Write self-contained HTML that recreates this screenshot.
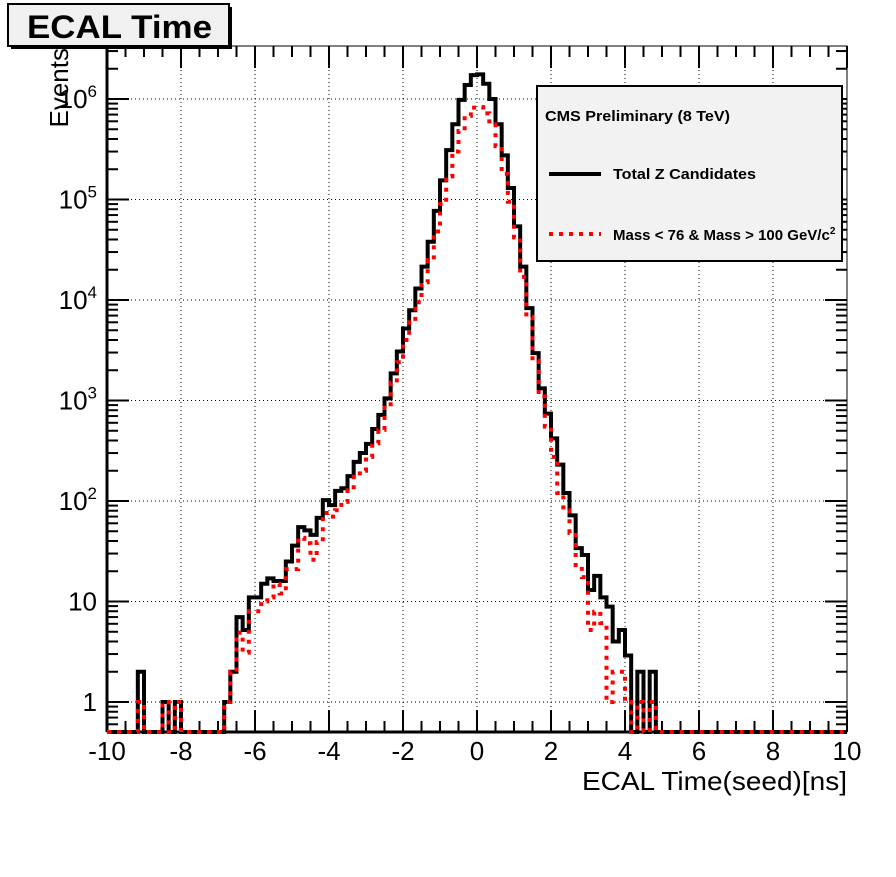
<!DOCTYPE html>
<html><head><meta charset="utf-8"><style>
body{margin:0;background:#fff;}
svg text{font-family:"Liberation Sans",sans-serif;}
</style></head><body>
<svg id="c" width="896" height="872" xmlns="http://www.w3.org/2000/svg"></svg>
<script>
const binLow = -10, binWidth = 1/6, nBins = 120;
const totalBins = [5,9,11,19,20,21,22,23,24,25,26,27,28,29,30,31,32,33,34,35,36,37,38,39,40,41,42,43,44,45,46,47,48,49,50,51,52,53,54,55,56,57,58,59,60,61,62,63,64,65,66,67,68,69,70,71,72,73,74,75,76,77,78,79,80,81,82,83,84,86,88];
const totalValues = [2,1,1,1,2,7,5.2,11,11,15,17,16,16,25,36,55,51,46,68,102,91,126,134,177,245,300,370,520,720,1050,1860,3070,5200,7900,13000,21500,38000,77000,155000,310000,560000,980000,1380000,1730000,1760000,1420000,1000000,560000,275000,130000,54000,21500,8300,2960,1320,740,420,230,120,72,34,29,13,18,11,8.9,4,5.2,2.9,2,2];
const massBins = [5,9,11,19,20,21,22,23,24,25,26,27,28,29,30,31,32,33,34,35,36,37,38,39,40,41,42,43,44,45,46,47,48,49,50,51,52,53,54,55,56,57,58,59,60,61,62,63,64,65,66,67,68,69,70,71,72,73,74,75,76,77,78,79,80,81,82,83,84,86,88];
const massValues = [1,1,1,1,2,4.9,3.1,8,8,10,11,15,12,21,21,43,38,26,39,76,70,81,98,128,175,200,275,375,510,850,1500,2400,4000,6000,9500,15000,25000,48000,90000,170000,300000,480000,680000,820000,830000,720000,560000,340000,180000,95000,42000,17000,6800,2500,1100,550,275,120,81,48,23,17.5,5.2,7.9,6.1,1,2,2,1,1,1];
const xTicks = [-10,-8,-6,-4,-2,0,2,4,6,8,10];
const yDecades = [0,1,2,3,4,5,6];

const NS="http://www.w3.org/2000/svg";
const svg=document.getElementById('c');
const X0=107,X1=847,Y0=46,Y1=732;
const pxPerDec=100.5, yRef=702;
function sx(v){return X0+(v+10)/20*(X1-X0);}
function sy(v){ if(v<=0.5) return Y1; return Math.max(Y0, yRef-Math.log10(v)*pxPerDec);}
function mk(tag,attrs,parent){const e=document.createElementNS(NS,tag);for(const k in attrs)e.setAttribute(k,attrs[k]);(parent||svg).appendChild(e);return e;}

const frame=mk('rect',{x:X0,y:Y0,width:X1-X0,height:Y1-Y0,fill:'#fff',stroke:'#000','stroke-width':1});



const grid=mk('g',{stroke:'#000','stroke-width':1,'stroke-dasharray':'1 3'});


xTicks.forEach(t=>{if(t>-10&&t<10){mk('line',{x1:sx(t),x2:sx(t),y1:Y0,y2:Y1},grid);}});
yDecades.forEach(d=>{const y=sy(Math.pow(10,d));mk('line',{x1:X0,x2:X1,y1:y,y2:y},grid);});

const tk=mk('g',{stroke:'#000','stroke-width':2});


for(let v=-10;v<=10.001;v+=0.5){
  const major=Math.abs(v/2-Math.round(v/2))<1e-6;
  const L=major?22:11;const x=sx(v);
  mk('line',{x1:x,x2:x,y1:Y1,y2:Y1-L},tk);
  mk('line',{x1:x,x2:x,y1:Y0,y2:Y0+L},tk);
}
for(let d=-1;d<=6;d++){
  for(let m=1;m<=9;m++){
    const v=m*Math.pow(10,d); if(v<0.5||v>3.2e6) continue;
    const y=yRef-Math.log10(v)*pxPerDec; const L=m===1?22:11;
    mk('line',{x1:X0,x2:X0+L,y1:y,y2:y},tk);
    mk('line',{x1:X1,x2:X1-L,y1:y,y2:y},tk);
  }
}
mk('line',{x1:X0,x2:X1,y1:Y1,y2:Y1,stroke:'#000','stroke-width':3});
mk('line',{x1:X0,x2:X0,y1:Y0,y2:Y1,stroke:'#000','stroke-width':3});

xTicks.forEach(t=>{const e=mk('text',{x:sx(t),y:760,'font-size':26,'text-anchor':'middle'});e.textContent=String(t);

});
yDecades.forEach(d=>{const y=sy(Math.pow(10,d))+9;let e;
  if(d===0){e=mk('text',{x:97,y:y,'font-size':26,'text-anchor':'end'});e.textContent='1';}
  else if(d===1){e=mk('text',{x:97,y:y,'font-size':26,'text-anchor':'end'});e.textContent='10';}
  else{e=mk('text',{x:97,y:y,'font-size':26,'text-anchor':'end'});e.innerHTML='10<tspan dy="-11" font-size="17">'+d+'</tspan>';}
  
  
});

function histPath(bins,vals){
  const full=new Array(nBins).fill(0);
  bins.forEach((b,i)=>{full[b]=vals[i];});
  let d='M'+X0+','+Y1;
  for(let i=0;i<nBins;i++){
    const xl=sx(binLow+i*binWidth), xr=sx(binLow+(i+1)*binWidth), y=sy(full[i]);
    d+=' L'+xl.toFixed(2)+','+y.toFixed(2)+' L'+xr.toFixed(2)+','+y.toFixed(2);
  }
  return d;
}
const hb=mk('path',{d:histPath(totalBins,totalValues),fill:'none',stroke:'#000','stroke-width':4});


const hr=mk('path',{d:histPath(massBins,massValues),fill:'none',stroke:'#f00','stroke-width':4,'stroke-dasharray':'4 6'});



const xt=mk('text',{x:582,y:790,'font-size':26,textLength:265,lengthAdjust:'spacingAndGlyphs'});xt.textContent='ECAL Time(seed)[ns]';


const yt=mk('text',{x:0,y:0,'font-size':26,'text-anchor':'end',transform:'translate(68,48) rotate(-90)'});yt.textContent='Events';



const tg=mk('g',{});


mk('rect',{x:11,y:7,width:221,height:42,fill:'#000'},tg);
mk('rect',{x:8,y:4,width:221,height:42,fill:'#f0f0f0',stroke:'#000','stroke-width':2},tg);
const tt=mk('text',{x:27,y:38,'font-size':32,'font-weight':'bold',textLength:185,lengthAdjust:'spacingAndGlyphs'},tg);tt.textContent='ECAL Time';

const lg=mk('g',{});


mk('rect',{x:537,y:86,width:305,height:175,fill:'#f2f2f2',stroke:'#000','stroke-width':2},lg);
const l0=mk('text',{x:545,y:121,'font-size':15,'font-weight':'bold',textLength:185,lengthAdjust:'spacingAndGlyphs'},lg);l0.textContent='CMS Preliminary (8 TeV)';
mk('line',{x1:549,x2:601,y1:174,y2:174,stroke:'#000','stroke-width':4},lg);
const l1=mk('text',{x:613,y:179,'font-size':15,'font-weight':'bold',textLength:143,lengthAdjust:'spacingAndGlyphs'},lg);l1.textContent='Total Z Candidates';
mk('line',{x1:549,x2:601,y1:234,y2:234,stroke:'#f00','stroke-width':4,'stroke-dasharray':'4 6'},lg);
const l2=mk('text',{x:613,y:240,'font-size':15,'font-weight':'bold'},lg);l2.innerHTML='Mass &lt; 76 &amp; Mass &gt; 100 GeV/c<tspan dy="-6" font-size="10">2</tspan>';
</script>
</body></html>
